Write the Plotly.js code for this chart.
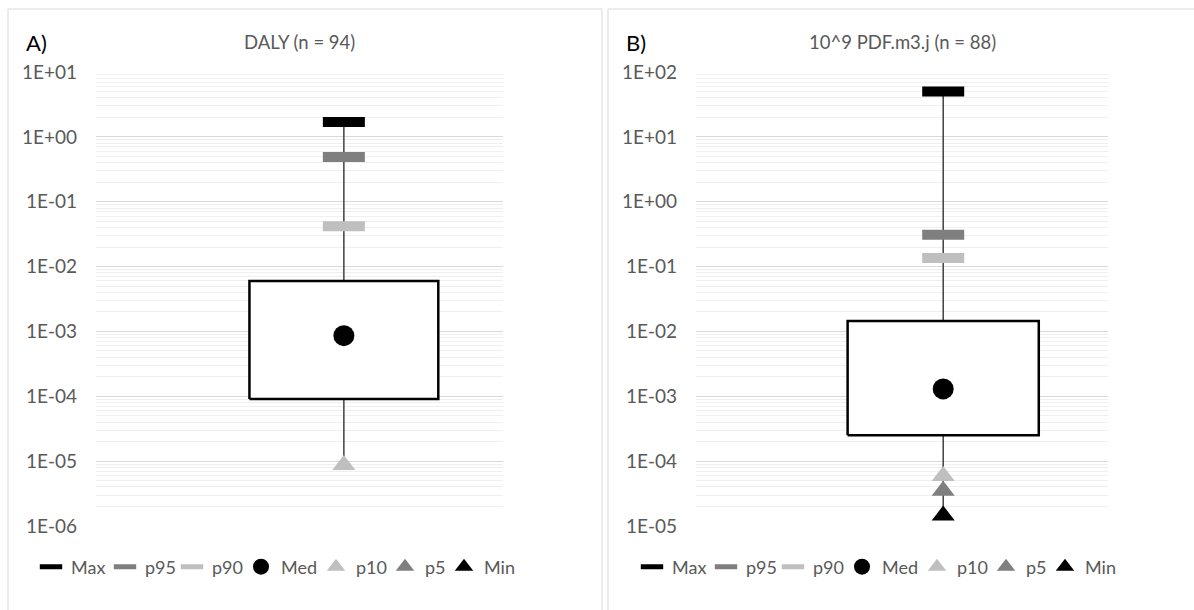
<!DOCTYPE html>
<html>
<head>
<meta charset="utf-8">
<script src="https://cdn.plot.ly/plotly-3.0.1.min.js"></script>
<style>html,body{margin:0;padding:0;background:#fff;}#chart{width:1194px;height:610px;}</style>
</head>
<body>
<div id="chart"></div>
<script>
// ---- data ----
const seriesNames = ["Max", "p95", "p90", "Med", "p10", "p5", "Min"];
const panelLabels = ["A)", "B)"];
const panelTitles = ["DALY (n = 94)", "10^9 PDF.m3.j (n = 88)"];

// panel A: DALY
const dalyStats = { Max: 1.7, p95: 0.49, p90: 0.042, Med: 8.6e-4, p10: 8.7e-6, p5: null, Min: null };
const dalyQ1 = 9.1e-5;
const dalyQ3 = 6.0e-3;

// panel B: 10^9 PDF.m3.j
const pdfStats = { Max: 50, p95: 0.31, p90: 0.135, Med: 1.3e-3, p10: 5.9e-5, p5: 3.5e-5, Min: 1.45e-5 };
const pdfQ1 = 2.5e-4;
const pdfQ3 = 1.45e-2;

const tickValsA = [1e-6, 1e-5, 1e-4, 1e-3, 1e-2, 1e-1, 1, 10];
const tickTextA = ["1E-06", "1E-05", "1E-04", "1E-03", "1E-02", "1E-01", "1E+00", "1E+01"];
const tickValsB = [1e-5, 1e-4, 1e-3, 1e-2, 1e-1, 1, 10, 100];
const tickTextB = ["1E-05", "1E-04", "1E-03", "1E-02", "1E-01", "1E+00", "1E+01", "1E+02"];

// ---- styles ----
const FONT = "Lato, 'Open Sans', sans-serif";
const TXT = "#595959";
const styles = {
  Max: { symbol: "line-ew", color: "#000000", size: 30, lw: 10, lgw: 29 },
  p95: { symbol: "line-ew", color: "#7f7f7f", size: 30, lw: 10, lgw: 22 },
  p90: { symbol: "line-ew", color: "#bfbfbf", size: 30, lw: 10, lgw: 24 },
  Med: { symbol: "circle", color: "#000000", size: 21, lw: 0, lgw: 30 },
  p10: { symbol: "triangle-up", color: "#bfbfbf", size: 20, lw: 0, lgw: 24 },
  p5:  { symbol: "triangle-up", color: "#7f7f7f", size: 20, lw: 0, lgw: 14 },
  Min: { symbol: "triangle-up", color: "#000000", size: 20, lw: 0, lgw: 30 }
};
const HALF = 0.232;

function panelTraces(stats, q1, q3, xa, ya, legendId) {
  const traces = [];
  const present = seriesNames.map(n => stats[n]).filter(v => v !== null && v !== undefined);
  const top = Math.max.apply(null, present);
  const bottom = Math.min.apply(null, present);
  // whisker
  traces.push({
    type: "scatter", mode: "lines", x: [0, 0], y: [bottom, top],
    line: { color: "#404040", width: 1.5 }, xaxis: xa, yaxis: ya,
    showlegend: false, hoverinfo: "skip"
  });
  // box (interquartile range)
  traces.push({
    type: "scatter", mode: "lines",
    x: [-HALF, HALF, HALF, -HALF, -HALF], y: [q1, q1, q3, q3, q1],
    fill: "toself", fillcolor: "#ffffff",
    line: { color: "#000000", width: 2.5 }, xaxis: xa, yaxis: ya,
    showlegend: false, hoverinfo: "skip"
  });
  seriesNames.forEach(n => {
    const s = styles[n];
    const v = stats[n];
    traces.push({
      type: "scatter", mode: "markers", name: n,
      x: [0], y: [v === undefined ? null : v],
      xaxis: xa, yaxis: ya, legend: legendId, showlegend: true,
      legendwidth: s.lgw,
      marker: {
        symbol: s.symbol, size: s.size, color: s.color,
        line: { color: s.color, width: s.lw }
      }
    });
  });
  return traces;
}

const data = [].concat(
  panelTraces(dalyStats, dalyQ1, dalyQ3, "x", "y", "legend"),
  panelTraces(pdfStats, pdfQ1, pdfQ3, "x2", "y2", "legend2")
);

const W = 1194, H = 610;
const px = v => v / W;
const py = v => (H - v) / H;

function yAxis(domain, range, tv, tt, anchor) {
  return {
    type: "log", domain: domain, range: range, anchor: anchor,
    tickvals: tv, ticktext: tt,
    tickfont: { family: FONT, size: 19, color: TXT },
    showline: false, zeroline: false, ticks: "",
    ticklabelstandoff: 18,
    showgrid: true, gridcolor: "#d9d9d9", gridwidth: 1,
    minor: { dtick: "D1", showgrid: true, gridcolor: "#efefef", gridwidth: 1, ticks: "" },
    fixedrange: true
  };
}
function xAxis(domain, range, anchor) {
  return {
    domain: domain, range: range, anchor: anchor, showgrid: false, zeroline: false,
    showline: false, showticklabels: false, ticks: "", fixedrange: true
  };
}
const legendBase = {
  orientation: "h", yanchor: "middle", xanchor: "left",
  font: { family: FONT, size: 18, color: TXT },
  bgcolor: "rgba(0,0,0,0)", itemclick: false, itemdoubleclick: false
};

const layout = {
  width: W, height: H,
  margin: { l: 0, r: 0, t: 0, b: 0 },
  paper_bgcolor: "#ffffff", plot_bgcolor: "rgba(0,0,0,0)",
  showlegend: true,
  xaxis: xAxis([px(96), px(503)], [-0.609, 0.391], "y"),
  yaxis: yAxis([py(526), py(72)], [-6, 1], tickValsA, tickTextA, "x"),
  xaxis2: xAxis([px(696), px(1108)], [-0.60, 0.40], "y2"),
  yaxis2: yAxis([py(526), py(72)], [-5, 2], tickValsB, tickTextB, "x2"),
  legend: Object.assign({}, legendBase, { x: px(31), y: py(567) }),
  legend2: Object.assign({}, legendBase, { x: px(632), y: py(567) }),
  shapes: [
    { type: "rect", xref: "paper", yref: "paper", x0: px(8), x1: px(602), y0: -0.02, y1: py(9),
      line: { color: "#d9d9d9", width: 1 }, fillcolor: "rgba(0,0,0,0)", layer: "below" },
    { type: "rect", xref: "paper", yref: "paper", x0: px(608), x1: 1.02, y0: -0.02, y1: py(9),
      line: { color: "#d9d9d9", width: 1 }, fillcolor: "rgba(0,0,0,0)", layer: "below" }
  ],
  annotations: [
    { text: panelLabels[0], xref: "paper", yref: "paper", x: px(24), y: py(42), xanchor: "left", yanchor: "middle",
      showarrow: false, font: { family: FONT, size: 22, color: "#000000" } },
    { text: panelTitles[0], xref: "paper", yref: "paper", x: px(299), y: py(42), xanchor: "center", yanchor: "middle",
      showarrow: false, font: { family: FONT, size: 18.5, color: TXT } },
    { text: panelLabels[1], xref: "paper", yref: "paper", x: px(624), y: py(42), xanchor: "left", yanchor: "middle",
      showarrow: false, font: { family: FONT, size: 22, color: "#000000" } },
    { text: panelTitles[1], xref: "paper", yref: "paper", x: px(902), y: py(42), xanchor: "center", yanchor: "middle",
      showarrow: false, font: { family: FONT, size: 18.5, color: TXT } }
  ]
};

Plotly.newPlot("chart", data, layout, { displayModeBar: false, staticPlot: true });
</script>
</body>
</html>
